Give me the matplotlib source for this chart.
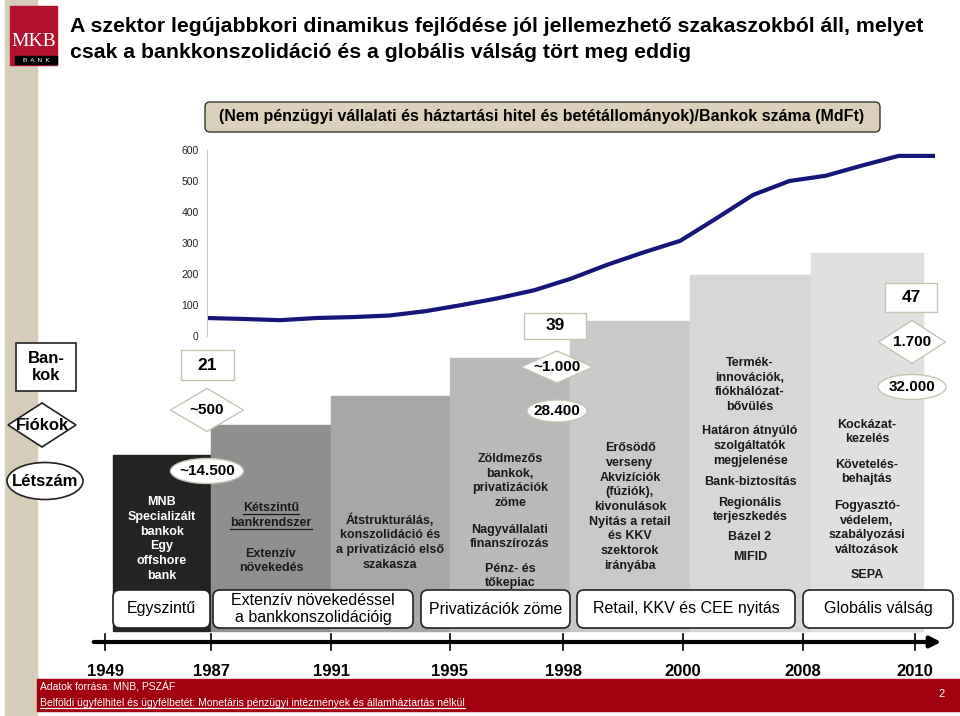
import matplotlib
matplotlib.use("Agg")
import matplotlib.pyplot as plt
from matplotlib.patches import Rectangle, FancyBboxPatch, Polygon, Ellipse

plt.rcParams["font.family"] = ["Liberation Sans", "DejaVu Sans"]
NARROW = ["Liberation Sans Narrow", "Liberation Sans", "DejaVu Sans"]

# ratio of non-financial corporate + household loans and deposits to number of banks (MdFt)
line_years = list(range(1990, 2011))
ratio = [58, 55, 51, 58, 61, 66, 80, 100, 122, 148, 185, 230, 270, 307, 380, 455,
         500, 517, 550, 581, 581]

timeline_years = ["1949", "1987", "1991", "1995", "1998", "2000", "2008", "2010"]
phase_labels = ["Egyszintű", "Extenzív növekedéssel\na bankkonszolidációig",
                "Privatizációk zöme", "Retail, KKV és CEE nyitás", "Globális válság"]

banks = ["21", "39", "47"]
branches = ["~500", "~1.000", "1.700"]
staff = ["~14.500", "28.400", "32.000"]

col1_text = "MNB\nSpecializált\nbankok\nEgy\noffshore\nbank"
col2_text = ["Kétszintű", "bankrendszer", "Extenzív\nnövekedés"]
col3_text = "Átstrukturálás,\nkonszolidáció és\na privatizáció első\nszakasza"
col4_text = ["Zöldmezős\nbankok,\nprivatizációk\nzöme", "Nagyvállalati\nfinanszírozás",
             "Pénz- és\ntőkepiac"]
col5_text = ("Erősödő\nverseny\nAkvizíciók\n(fúziók),\nkivonulások\nNyitás a retail\n"
             "és KKV\nszektorok\nirányába")
col6_text = ["Termék-\ninnovációk,\nfiókhálózat-\nbővülés",
             "Határon átnyúló\nszolgáltatók\nmegjelenése", "Bank-biztosítás",
             "Regionális\nterjeszkedés", "Bázel 2", "MIFID"]
col7_text = ["Kockázat-\nkezelés", "Követelés-\nbehajtás",
             "Fogyasztó-\nvédelem,\nszabályozási\nváltozások", "SEPA"]

title_lines = ["A szektor legújabbkori dinamikus fejlődése jól jellemezhető szakaszokból áll, melyet",
               "csak a bankkonszolidáció és a globális válság tört meg eddig"]
chart_title = "(Nem pénzügyi vállalati és háztartási hitel és betétállományok)/Bankok száma (MdFt)"
source_lines = ["Adatok forrása: MNB, PSZÁF",
                "Belföldi ügyfélhitel és ügyfélbetét: Monetáris pénzügyi intézmények és államháztartás nélkül"]

W, H = 960, 716
fig = plt.figure(figsize=(9.6, 7.16), dpi=100)
ax = fig.add_axes([0, 0, 1, 1])
ax.set_xlim(0, W)
ax.set_ylim(H, 0)
ax.axis("off")

# side strip and logo
ax.add_patch(Rectangle((5, 0), 32, H, color="#d6ccba", zorder=0))
ax.add_patch(Rectangle((10, 6), 47, 59, color="#b3122e", zorder=2))
ax.text(34, 41, "MKB", color="white", family="Liberation Serif", fontsize=14,
        ha="center", va="center", zorder=3)
ax.add_patch(Rectangle((15, 56), 42, 8, color="black", zorder=3))
ax.text(36, 60, "B  A  N  K", color="white", fontsize=4.5, ha="center", va="center", zorder=4)

for i, line in enumerate(title_lines):
    ax.text(70, 27 + i * 25, line, fontsize=15.3, fontweight="bold", va="center", ha="left")

# subtitle box
ax.add_patch(FancyBboxPatch((205, 102), 675, 30, boxstyle="round,pad=0,rounding_size=5",
                            fc="#dad0bc", ec="#333333", lw=1))
ax.text(542, 117, chart_title, family=NARROW, fontsize=11.5, fontweight="bold",
        ha="center", va="center")

# stair-step columns
edges = [113, 211, 331, 450, 570, 690, 811, 923]
tops = [455, 425, 396, 358, 321, 275, 253]
col_colors = ["#242424", "#8f8f8f", "#a7a7a7", "#b9b9b9", "#c9c9c9", "#d7d7d7", "#e0e0e0"]
for i in range(7):
    ax.add_patch(Rectangle((edges[i], tops[i]), edges[i + 1] - edges[i], 631 - tops[i],
                           color=col_colors[i], zorder=1))

# column texts
body = dict(fontsize=9, fontweight="bold", ha="center", va="center", linespacing=1.3, zorder=3)
ax.text(162, 539, col1_text, color="white", **body)
k1 = ax.text(271, 508, col2_text[0], color="#1a1a1a", **body)
k2 = ax.text(271, 523, col2_text[1], color="#1a1a1a", **body)
ax.text(271, 561, col2_text[2], color="#1a1a1a", **body)
ax.text(390, 542, col3_text, color="#1a1a1a", **body)
for txt, y in zip(col4_text, [481, 537, 576]):
    ax.text(510, y, txt, color="#1a1a1a", **body)
ax.text(630, 507, col5_text, color="#1a1a1a", **body)
for txt, y in zip(col6_text, [385, 446, 482, 510, 537, 557]):
    ax.text(750, y, txt, color="#1a1a1a", **body)
for txt, y in zip(col7_text, [432, 472, 528, 575]):
    ax.text(867, y, txt, color="#1a1a1a", **body)

# phase boxes
boxes = [(113, 210), (213, 413), (421, 570), (577, 795), (803, 953)]
for (x0, x1), lab in zip(boxes, phase_labels):
    ax.add_patch(FancyBboxPatch((x0, 590), x1 - x0, 38, boxstyle="round,pad=0,rounding_size=7",
                                fc="white", ec="#222222", lw=1.2, zorder=4))
    ax.text((x0 + x1) / 2, 609, lab, fontsize=11.5, ha="center", va="center",
            linespacing=1.1, zorder=5)

# left legend shapes
ax.add_patch(Rectangle((16, 343), 60, 48, fc="white", ec="#222222", lw=1.2, zorder=3))
ax.text(46, 367, "Ban-\nkok", fontsize=12, fontweight="bold", ha="center", va="center",
        linespacing=1.15, zorder=4)
ax.add_patch(Polygon([(8, 425), (42, 403), (76, 425), (42, 447)], closed=True,
                     fc="white", ec="#222222", lw=1.2, zorder=3))
ax.text(42, 425, "Fiókok", fontsize=12, fontweight="bold", ha="center", va="center", zorder=4)
ax.add_patch(Ellipse((45, 481), 76, 37, fc="white", ec="#222222", lw=1.2, zorder=3))
ax.text(45, 481, "Létszám", fontsize=12, fontweight="bold", ha="center", va="center", zorder=4)

# value markers
light = "#cbc2b2"
bank_pos = [(207, 365, 53, 30), (555, 326, 62, 26), (911, 297, 52, 29)]
for (cx, cy, w, h), v in zip(bank_pos, banks):
    ax.add_patch(Rectangle((cx - w / 2, cy - h / 2), w, h, fc="white", ec=light, lw=1, zorder=3))
    ax.text(cx, cy, v, fontsize=12.5, fontweight="bold", ha="center", va="center", zorder=4)
dia_pos = [(207, 410, 73, 43), (557, 367, 72, 32), (912, 342, 67, 43)]
for (cx, cy, w, h), v in zip(dia_pos, branches):
    ax.add_patch(Polygon([(cx - w / 2, cy), (cx, cy - h / 2), (cx + w / 2, cy), (cx, cy + h / 2)],
                         closed=True, fc="white", ec=light, lw=1, zorder=3))
    ax.text(cx, cy, v, fontsize=11, fontweight="bold", ha="center", va="center", zorder=4)
ell_pos = [(207, 471, 73, 25), (557, 411, 60, 22), (912, 387, 68, 25)]
for (cx, cy, w, h), v in zip(ell_pos, staff):
    ax.add_patch(Ellipse((cx, cy), w, h, fc="white", ec=light, lw=1, zorder=3))
    ax.text(cx, cy, v, fontsize=11, fontweight="bold", ha="center", va="center", zorder=4)

# timeline
ax.annotate("", xy=(944, 642), xytext=(91, 642),
            arrowprops=dict(arrowstyle="-|>", lw=3, color="black", mutation_scale=16))
ticks = [105, 211, 331, 450, 563, 683, 803, 915]
for x, yr in zip(ticks, timeline_years):
    ax.plot([x, x], [634, 650], color="black", lw=1.2)
    ax.text(x, 672, yr, family=NARROW, fontsize=12, fontweight="bold", ha="center", va="center")

# footer
ax.add_patch(Rectangle((37, 679), W - 37, 32, color="#a3000f", zorder=1))
ax.text(40, 687, source_lines[0], family=NARROW, fontsize=7.5, color="white", va="center", zorder=2)
f2 = ax.text(40, 703, source_lines[1], family=NARROW, fontsize=7.5, color="white", va="center", zorder=2)
ax.text(942, 694, "2", fontsize=8, color="white", ha="center", va="center", zorder=2)

# underlines
fig.canvas.draw()
inv = ax.transData.inverted()
for t, col in [(k1, "#1a1a1a"), (k2, "#1a1a1a"), (f2, "white")]:
    bb = t.get_window_extent()
    (x0, y0), (x1, _) = inv.transform([[bb.x0, bb.y0], [bb.x1, bb.y1]])
    ax.plot([x0, x1], [y0 - 0.5, y0 - 0.5], color=col, lw=0.9, zorder=5)

# line chart
lc = fig.add_axes([207 / W, 1 - 336 / H, (935 - 207) / W, (336 - 150) / H])
lc.patch.set_alpha(0)
lc.plot(line_years, ratio, color="#15157a", lw=3, solid_capstyle="butt")
lc.set_xlim(line_years[0], line_years[-1])
lc.set_ylim(0, 600)
lc.set_yticks(range(0, 601, 100))
lc.set_xticks([])
for s in ["top", "right", "bottom"]:
    lc.spines[s].set_visible(False)
lc.spines["left"].set_color("#c8c8c8")
lc.tick_params(axis="y", length=0, pad=6, labelsize=7.5, labelcolor="#222222")
for lab in lc.get_yticklabels():
    lab.set_family(NARROW)

fig.savefig("out.png", dpi=100)
